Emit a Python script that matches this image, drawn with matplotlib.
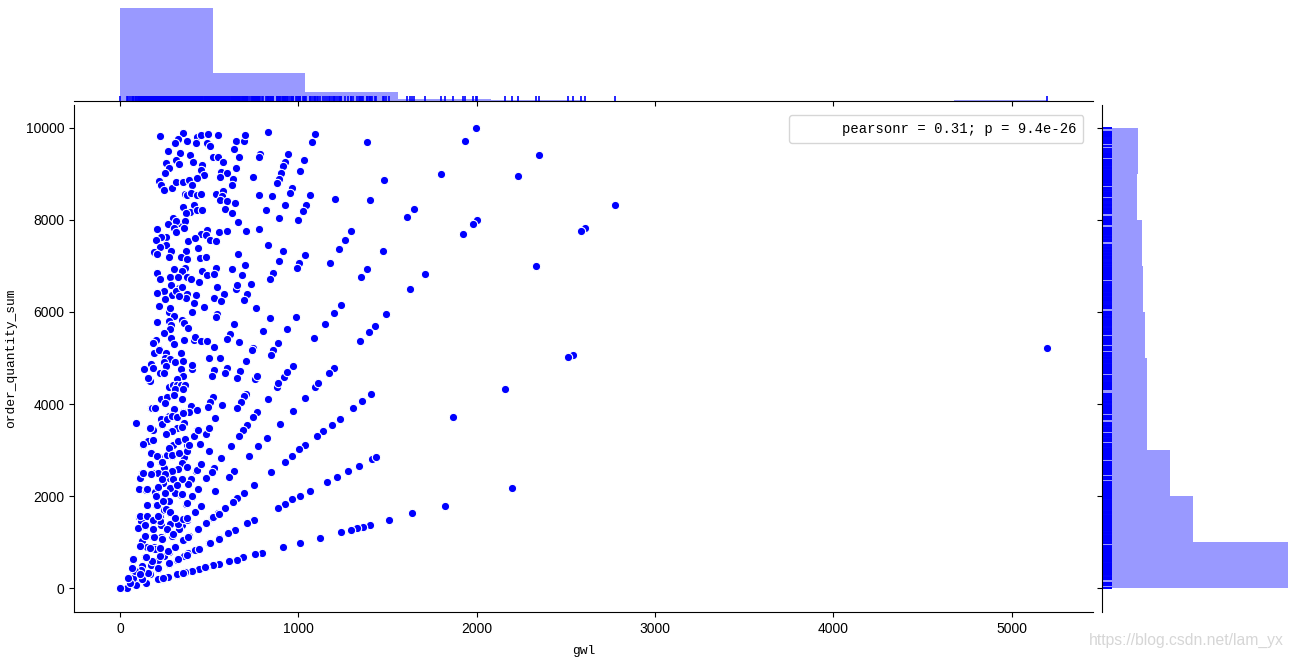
import matplotlib
matplotlib.use('Agg')
import matplotlib.pyplot as plt
from matplotlib.lines import Line2D

# (gwl, order_quantity_sum)
upper_points = [
    (226, 9826), (355, 9891), (327, 9761), (378, 9717), (307, 9674), (430, 9797), (452, 9833), (424, 9674),
    (495, 9862), (551, 9848), (486, 9660), (507, 9609), (652, 9717), (697, 9717), (703, 9833), (828, 9913),
    (1095, 9869), (1079, 9696), (1385, 9696), (267, 9501), (338, 9457), (395, 9414), (641, 9544), (669, 9370),
    (523, 9370), (551, 9370), (580, 9262), (787, 9435), (781, 9370), (944, 9435), (1034, 9305), (927, 9262),
    (916, 9175), (905, 9023), (1011, 9067), (894, 8893), (882, 8807), (1482, 8872), (260, 9240), (316, 9305),
    (333, 9219), (408, 9262), (277, 9132), (462, 9197), (456, 9081), (473, 8980), (254, 9023), (652, 9132),
    (568, 9045), (602, 9023), (563, 8937), (636, 8893), (630, 8763), (748, 8937), (221, 8843), (232, 8763),
    (245, 8655), (294, 8698), (316, 8828), (355, 8828), (389, 8872), (430, 8915), (402, 8763), (363, 8568),
    (374, 8546), (396, 8590), (430, 8546), (452, 8568), (540, 8568), (580, 8633), (574, 8525), (563, 8438),
    (602, 8416), (647, 8373), (781, 8546), (854, 8525), (966, 8698), (955, 8590), (1067, 8546), (1208, 8459),
    (1404, 8438), (1045, 8329), (1028, 8199), (1000, 8004), (927, 8329), (821, 8221), (894, 8047), (352, 8286),
    (417, 8329), (395, 8178), (368, 8156), (434, 8221), (462, 8221), (591, 8243), (630, 8156), (664, 7961),
    (299, 8047), (333, 7939), (366, 7982), (267, 7917), (316, 7982), (305, 7830), (361, 7830), (316, 7744),
    (209, 7809), (490, 7787), (456, 7700), (484, 7679), (557, 7744), (602, 7765), (708, 7765), (781, 7809),
    (1297, 7765), (1264, 7570), (1230, 7375), (1473, 7332), (260, 7635), (232, 7635), (204, 7570), (260, 7462),
    (226, 7418), (288, 7332), (191, 7310), (209, 7267), (273, 7201), (383, 7548), (423, 7614), (507, 7570),
    (540, 7548), (439, 7397), (832, 7462), (916, 7332), (664, 7267), (1039, 7245), (372, 7332), (344, 7201),
    (378, 7158), (451, 7180), (484, 7201), (894, 7115), (1006, 7071), (994, 6963), (1179, 7071), (1387, 6941),
    (1353, 6768), (305, 6941), (366, 6963), (350, 6898), (540, 6963), (703, 7028), (630, 6941), (209, 6854),
    (282, 6768), (327, 6768), (226, 6724), (378, 6768), (400, 6724), (445, 6659), (462, 6898), (490, 6811),
    (529, 6833), (686, 6811), (860, 6854), (843, 6724), (288, 6594), (333, 6529), (249, 6464), (209, 6421),
    (294, 6377), (316, 6464), (350, 6551), (546, 6551), (652, 6507), (658, 6594), (737, 6616), (585, 6399),
    (714, 6399), (378, 6399), (372, 6312), (333, 6348), (428, 6377), (529, 6312), (568, 6247), (697, 6269),
    (254, 6290), (221, 6139), (417, 6204), (473, 6117), (277, 6008), (282, 6095), (765, 6095), (1237, 6160),
    (1202, 5987), (1493, 5965), (406, 6008), (546, 5965), (540, 5900), (301, 5922), (843, 5878), (989, 5900),
    (1151, 5748), (209, 5792), (277, 5813), (288, 5727), (350, 5835), (361, 5770), (641, 5748), (383, 5661),
    (282, 5640), (245, 5553), (804, 5596), (938, 5640), (1432, 5705), (1398, 5575), (619, 5531), (1090, 5445),
    (1348, 5379), (288, 5445), (361, 5401), (417, 5401), (423, 5466), (452, 5379), (490, 5379), (602, 5423),
    (669, 5358), (888, 5336), (204, 5401), (187, 5336), (301, 5315), (221, 5206), (529, 5250), (748, 5228),
    (860, 5177),
]
middle_points = [
    (193, 5103), (221, 5168), (260, 5103), (344, 5118), (501, 5009), (563, 5009), (742, 5168), (849, 5074),
    (254, 5009), (282, 4988), (310, 4922), (249, 4922), (355, 4944), (708, 4944), (176, 4865), (137, 4771),
    (187, 4792), (260, 4836), (344, 4771), (402, 4771), (406, 4857), (529, 4749), (602, 4792), (591, 4684),
    (675, 4727), (972, 4836), (1202, 4792), (1174, 4684), (226, 4684), (249, 4669), (518, 4619), (658, 4575),
    (759, 4554), (770, 4612), (922, 4597), (938, 4698), (355, 4619), (322, 4554), (170, 4510), (159, 4575),
    (882, 4380), (888, 4453), (1095, 4380), (1112, 4453), (277, 4380), (299, 4424), (322, 4424), (344, 4424),
    (366, 4424), (310, 4322), (355, 4322), (1409, 4228), (1359, 4077), (1308, 3925), (1039, 4142), (828, 4120),
    (708, 4228), (697, 4185), (680, 4055), (658, 3925), (574, 3990), (523, 4163), (507, 4055), (495, 3946),
    (972, 3860), (770, 3838), (748, 3730), (714, 3556), (692, 3448), (669, 3317), (535, 3708), (899, 3578),
    (1236, 3686), (1191, 3556), (1140, 3426), (1107, 3317), (232, 4120), (266, 4163), (305, 4207), (254, 4033),
    (350, 4120), (400, 3968), (389, 3838), (434, 3881), (198, 3925), (176, 3925), (305, 3903), (355, 3831),
    (316, 3730), (277, 3751), (232, 3672), (238, 3556), (361, 3599), (92, 3599), (187, 3448), (170, 3491),
    (288, 3426), (322, 3491), (350, 3513), (434, 3448), (501, 3491), (484, 3361), (417, 3317), (327, 3209),
    (366, 3252), (159, 3209), (131, 3122), (277, 3035), (299, 3122), (451, 3144), (378, 3122), (826, 3274),
    (776, 3101), (725, 2884), (624, 3101), (501, 2992), (568, 2840), (333, 2949), (378, 2992), (176, 2949),
    (221, 2862), (294, 2884), (266, 2905), (361, 2862),
]
lower_points = [
    (170, 2710), (232, 2754), (333, 2623), (378, 2645), (451, 2688), (428, 2558), (529, 2623), (518, 2537),
    (641, 2558), (613, 2428), (849, 2537), (1039, 3122), (1006, 3021), (966, 2884), (927, 2754), (1342, 2667),
    (1280, 2558), (1219, 2428), (1163, 2320), (1415, 2819), (1437, 2862), (125, 2515), (114, 2406), (215, 2515),
    (187, 2515), (249, 2623), (288, 2537), (277, 2406), (350, 2385), (400, 2385), (484, 2406), (383, 2276),
    (322, 2233), (277, 2190), (243, 2298), (109, 2168), (148, 2146), (439, 2168), (535, 2124), (753, 2255),
    (697, 2081), (658, 1973), (636, 1886), (591, 1756), (551, 1647), (518, 1539), (484, 1430), (439, 1300),
    (389, 1148), (350, 1387), (378, 1495), (406, 1994), (344, 2038), (310, 2081), (254, 2038), (204, 1994),
    (198, 2103), (277, 1908), (372, 1843), (153, 1821), (204, 1821), (249, 1712), (282, 1647), (226, 1561),
    (148, 1561), (109, 1561), (120, 1474), (187, 1474), (142, 1365), (103, 1322), (232, 1387), (282, 1409),
    (262, 1279), (333, 1300), (1067, 2124), (1011, 2016), (966, 1951), (927, 1843), (888, 1756), (753, 1495),
    (714, 1430), (647, 1279), (608, 1213), (557, 1105), (501, 997), (439, 866), (383, 780), (361, 715),
    (322, 628), (277, 541), (215, 433), (170, 324), (148, 1148), (187, 1127), (232, 1127), (294, 1148),
    (125, 1040), (153, 910), (193, 910), (221, 866), (142, 693), (75, 628), (277, 801), (310, 910),
    (249, 715), (215, 628), (176, 519), (125, 498), (75, 411), (103, 238), (1507, 1495), (1404, 1387),
    (1365, 1344), (1331, 1322), (1297, 1279), (1241, 1235), (1123, 1105), (1011, 997), (916, 910), (798, 780),
    (759, 758), (692, 693), (658, 628), (613, 606), (557, 541), (523, 519), (480, 476), (445, 433),
    (406, 389), (366, 368), (322, 303), (271, 259), (238, 216), (148, 129), (92, 86), (38, 21),
    (2, 0), (75, 238), (56, 129), (122, 201),
]
dense_points = [
    (215, 202), (243, 238), (318, 310), (355, 332), (477, 469), (159, 332), (211, 455), (275, 563),
    (323, 636), (374, 722), (421, 838), (443, 867), (505, 997), (555, 1069), (118, 397), (178, 599),
    (224, 708), (271, 816), (308, 903), (355, 1048), (383, 1127), (439, 1301), (480, 1431), (523, 1554),
    (555, 1626), (75, 636), (144, 693), (196, 853), (112, 925), (140, 1142), (168, 889), (191, 1127),
    (224, 889), (237, 1069), (262, 1286), (299, 1178), (327, 1395), (355, 1503), (374, 1539), (421, 1662),
    (454, 1792), (140, 1373), (187, 1301), (224, 1467), (256, 1720), (280, 1662), (308, 1539), (150, 1807),
    (206, 1807), (243, 1901), (374, 1850), (112, 1575), (150, 1575), (187, 1489), (215, 1575), (47, 238),
    (84, 383), (112, 310), (65, 455), (168, 2711), (215, 2515), (206, 2877), (234, 2754), (277, 3043),
    (290, 2891), (333, 2949), (377, 2985), (346, 2732), (327, 2602), (290, 2552), (252, 2479), (234, 2371),
    (299, 2371), (346, 2385), (280, 2190), (318, 2241), (215, 2212), (252, 2082), (346, 2045), (202, 2009),
    (402, 2009), (377, 2646), (430, 2566), (452, 2696), (149, 2154), (172, 2479), (127, 2515), (177, 3925),
    (196, 3925), (237, 3564), (265, 3672), (290, 3744), (318, 3730), (355, 3817), (290, 3419), (327, 3202),
    (364, 3253), (258, 3347), (159, 3202), (187, 3224), (131, 3130), (389, 3108), (417, 3311), (435, 3441),
    (482, 3347), (501, 3491),
]
far_points = [
    (1997, 10000), (1935, 9700), (2350, 9410), (1800, 9000), (2232, 8940), (2776, 8330), (2000, 8000),
    (1980, 7900), (1925, 7700), (1650, 8230), (1610, 8050), (2610, 7820), (2585, 7750), (2335, 7000),
    (1710, 6820), (1625, 6500), (2540, 5070), (2515, 5020), (5200, 5210), (2160, 4320), (1870, 3730),
    (2200, 2190), (1820, 1800), (1640, 1630),
]

# histogram bars
gwl_bin_edges = [0, 520, 1040, 1560, 2080, 2600, 3120, 3640, 4160, 4680, 5200]
gwl_counts = [511, 154, 50, 11, 5, 2, 0, 0, 0, 5]
qty_bin_edges = [0, 1000, 2000, 3000, 4000, 5000, 6000, 7000, 8000, 9000, 10000]
qty_counts = [164, 80, 60, 40, 40, 38, 36, 35, 31, 32]

x_ticks = [0, 1000, 2000, 3000, 4000, 5000]
y_ticks = [0, 2000, 4000, 6000, 8000, 10000]

all_points = upper_points + middle_points + lower_points + dense_points + far_points
gwl = [p[0] for p in all_points]
order_quantity_sum = [p[1] for p in all_points]

W, H = 1293, 658
fig = plt.figure(figsize=(W / 100, H / 100), dpi=100)
ax = fig.add_axes([74 / W, (H - 612) / H, (1093 - 74) / W, (612 - 105) / H])
ax_top = fig.add_axes([74 / W, (H - 101) / H, (1093 - 74) / W, 98 / H])
ax_right = fig.add_axes([1102 / W, (H - 612) / H, 195 / W, (612 - 105) / H])

# Main scatter
ax.scatter(gwl, order_quantity_sum, s=36, c='b', edgecolors='white', linewidths=0.8, zorder=3)
ax.set_xlim(-258, 5457)
ax.set_ylim(-510, 10490)
ax.set_xticks(x_ticks)
ax.set_yticks(y_ticks)
ax.tick_params(labelsize=10)
for label in ax.get_xticklabels() + ax.get_yticklabels():
    label.set_family('Liberation Sans')
ax.spines['top'].set_visible(False)
ax.spines['right'].set_visible(False)
ax.set_xlabel('gwl', family='Liberation Mono', fontsize=9.35, labelpad=7)
ax.set_ylabel('order_quantity_sum', family='Liberation Mono', fontsize=9.35, labelpad=6)

handle = Line2D([], [], linestyle='none')
ax.legend([handle], ['pearsonr = 0.31; p = 9.4e-26'], loc='upper right',
          prop={'family': 'Liberation Mono', 'size': 10}, handlelength=2.5, borderpad=0.5,
          borderaxespad=0.7, bbox_to_anchor=(1.0, 1.0))

# Top marginal
ax_top.bar(gwl_bin_edges[:-1], gwl_counts, width=520, align='edge', color='b', alpha=0.4, linewidth=0)
ax_top.vlines(gwl, 0, 0.05, transform=ax_top.get_xaxis_transform(), color='b', linewidth=1.2)
ax_top.set_xlim(ax.get_xlim())
ax_top.set_ylim(0, max(gwl_counts) * 1.05)
ax_top.set_xticks(x_ticks)
ax_top.set_yticks([])
ax_top.tick_params(labelbottom=False)
for side in ['top', 'right', 'left']:
    ax_top.spines[side].set_visible(False)

# Right marginal
ax_right.barh(qty_bin_edges[:-1], qty_counts, height=1000, align='edge', color='b', alpha=0.4, linewidth=0)
ax_right.hlines(order_quantity_sum, 0, 0.05, transform=ax_right.get_yaxis_transform(), color='b', linewidth=1.4)
ax_right.set_ylim(ax.get_ylim())
ax_right.set_xlim(0, max(qty_counts) * 1.05)
ax_right.set_yticks(y_ticks)
ax_right.set_xticks([])
ax_right.tick_params(labelleft=False)
for side in ['top', 'right', 'bottom']:
    ax_right.spines[side].set_visible(False)

fig.text(1284 / W, (H - 640) / H, 'https://blog.csdn.net/lam_yx', ha='right', va='center',
         family='Liberation Sans', fontsize=11.3, color='#d6d6d6')

fig.savefig('out.png', dpi=100)
